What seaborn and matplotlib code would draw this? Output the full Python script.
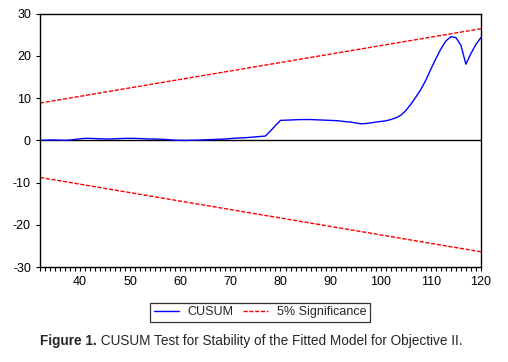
import numpy as np
import pandas as pd
import seaborn as sns
import matplotlib
matplotlib.use('Agg')
import matplotlib.pyplot as plt
from matplotlib.ticker import MultipleLocator

obs = list(range(32, 121))
cusum = [0.0, 0.0, 0.05, 0.05, 0.0, 0.0, 0.05, 0.2, 0.35, 0.45,
         0.45, 0.4, 0.35, 0.3, 0.3, 0.35, 0.4, 0.45, 0.45, 0.45,
         0.4, 0.35, 0.3, 0.3, 0.25, 0.2, 0.1, 0.0, 0.0, -0.05,
         0.0, 0.0, 0.05, 0.1, 0.15, 0.2, 0.25, 0.3, 0.4, 0.5,
         0.55, 0.6, 0.7, 0.8, 0.9, 1.0, 2.2, 3.5, 4.7, 4.75,
         4.8, 4.85, 4.9, 4.9, 4.9, 4.85, 4.8, 4.75, 4.7, 4.65,
         4.55, 4.4, 4.3, 4.1, 3.9, 3.95, 4.1, 4.3, 4.45, 4.6,
         4.9, 5.3, 5.9, 7.0, 8.5, 10.2, 12.0, 14.2, 16.8, 19.3,
         21.6, 23.5, 24.5, 24.3, 22.5, 18.0, 20.5, 22.7, 24.3]

# 5% significance bounds (straight lines)
bound_obs = [32, 120]
upper = [8.8, 26.4]
lower = [-8.8, -26.4]

y_ticks = [-30, -20, -10, 0, 10, 20, 30]
x_ticks = [40, 50, 60, 70, 80, 90, 100, 110, 120]

df = pd.DataFrame({'obs': obs, 'cusum': cusum})
df_b = pd.DataFrame({'obs': bound_obs, 'upper': upper, 'lower': lower})

sns.set_style('white')
plt.rcParams['font.family'] = ['Liberation Sans', 'DejaVu Sans']
plt.rcParams['axes.unicode_minus'] = False

fig = plt.figure(figsize=(5.08, 3.62), dpi=100)
ax = fig.add_axes([0.0787, 0.2624, 0.868, 0.7003])

sns.lineplot(data=df, x='obs', y='cusum', ax=ax, color='#0000ff', lw=1, label='CUSUM')
sns.lineplot(data=df_b, x='obs', y='upper', ax=ax, color='#ff0000', lw=1,
             dashes=False, label='5% Significance')
sns.lineplot(data=df_b, x='obs', y='lower', ax=ax, color='#ff0000', lw=1, dashes=False)
for ln in ax.lines[1:]:
    ln.set_dashes((3, 1.2))
ax.axhline(0, color='black', lw=1, zorder=1)

ax.set_xlim(32, 120)
ax.set_ylim(-30, 30)
ax.set_xticks(x_ticks)
ax.set_yticks(y_ticks)
ax.xaxis.set_minor_locator(MultipleLocator(1))
ax.tick_params(axis='both', which='major', direction='out', length=3, width=0.8,
               colors='black', labelsize=9, bottom=True, left=True, pad=3.5)
ax.tick_params(axis='x', which='minor', direction='out', length=3, width=0.8,
               colors='black', bottom=True)
ax.set_xlabel('')
ax.set_ylabel('')
for s in ax.spines.values():
    s.set_color('black')
    s.set_linewidth(1)

leg = ax.legend(loc='center', bbox_to_anchor=(0.512, 0.137), bbox_transform=fig.transFigure,
                ncol=2, fontsize=9, frameon=True, fancybox=False, handlelength=2,
                columnspacing=0.8, borderpad=0.3, handletextpad=0.7)
leg.get_frame().set_edgecolor('black')
leg.get_frame().set_linewidth(0.9)

# caption: bold lead-in plus normal text, centred as one line
cap_y = 0.058
t1 = fig.text(0, cap_y, 'Figure 1.', fontsize=9.8, fontweight='bold', va='center')
t2 = fig.text(0, cap_y, ' CUSUM Test for Stability of the Fitted Model for Objective II.',
              fontsize=9.8, va='center')
fig.canvas.draw()
r = fig.canvas.get_renderer()
w1 = t1.get_window_extent(r).width
w2 = t2.get_window_extent(r).width
x0 = 251 - (w1 + w2) / 2
t1.set_x(x0 / 508)
t2.set_x((x0 + w1) / 508)

fig.savefig('out.png', dpi=100)
